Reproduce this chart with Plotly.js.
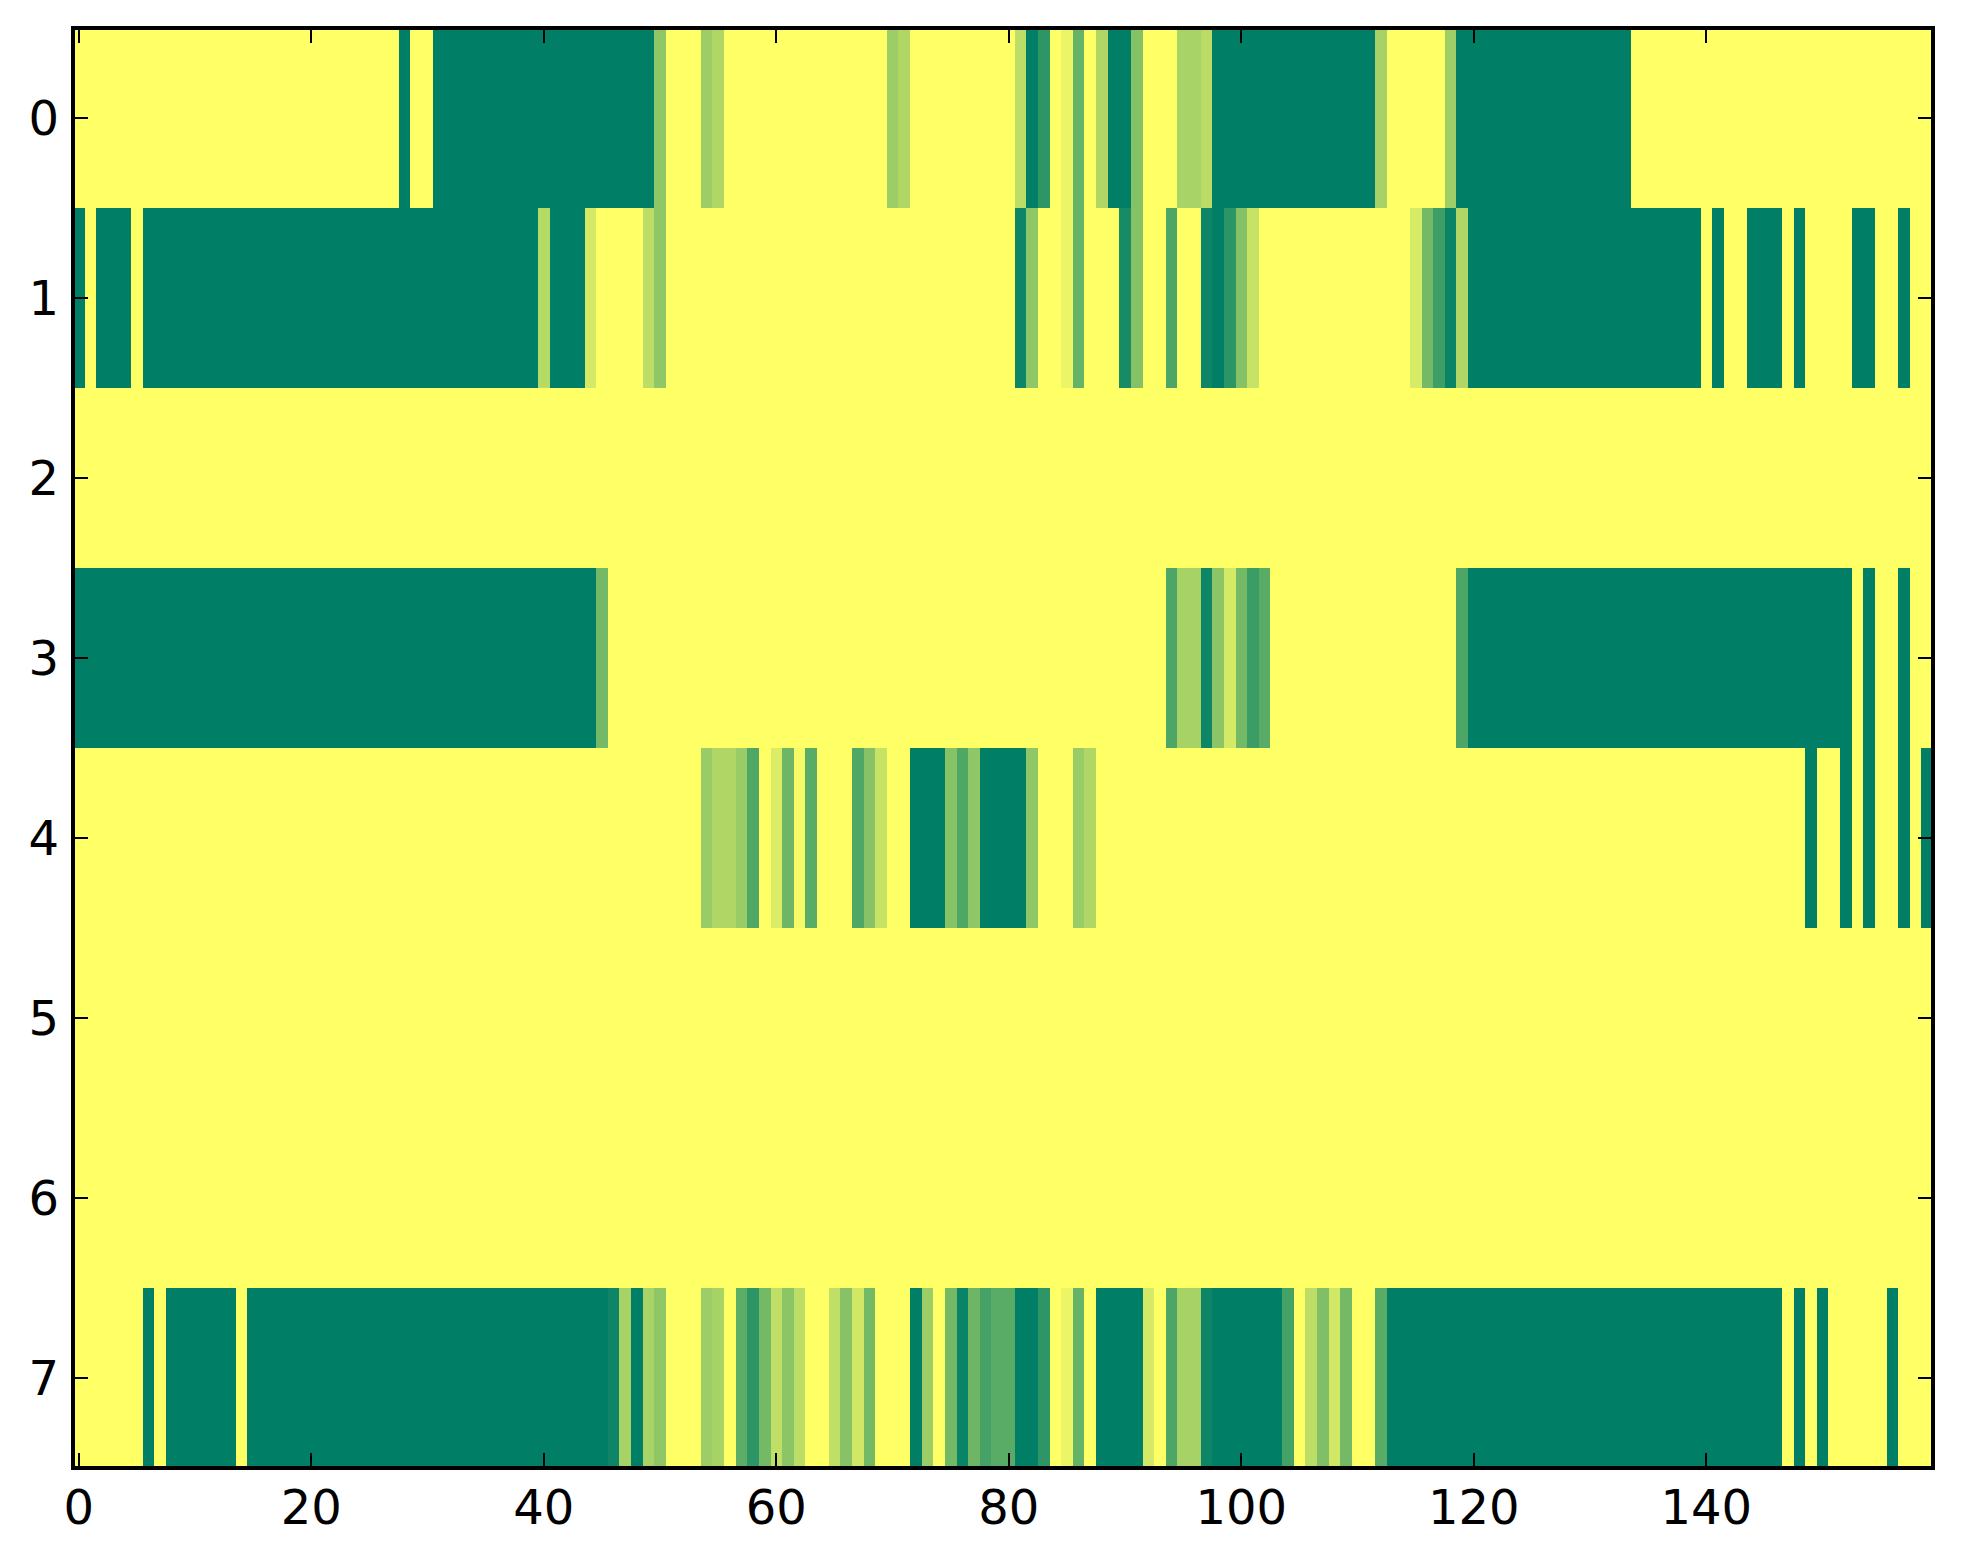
<!DOCTYPE html>
<html>
<head>
<meta charset="utf-8">
<script src="https://cdn.plot.ly/plotly-3.0.1.min.js"></script>
<style>html,body{margin:0;padding:0;background:#fff;}</style>
</head>
<body>
<div id="chart" style="width:1963px;height:1564px;"></div>
<script>
var row0 = [
0,0,0,0,0,0,0,0,0,0,
0,0,0,0,0,0,0,0,0,0,
0,0,0,0,0,0,0,0,1,0,
0,1,1,1,1,1,1,1,1,1,
1,1,1,1,1,1,1,1,1,1,
.44,0,0,0,.39,.31,0,0,0,0,
0,0,0,0,0,0,0,0,0,0,
.39,.31,0,0,0,0,0,0,0,0,
0,.26,1,.82,0,.08,.6,0,.31,1,
1,.48,0,0,0,.34,.34,.27,1,1,
1,1,1,1,1,1,1,1,1,1,
1,1,.35,0,0,0,0,0,.38,1,
1,1,1,1,1,1,1,1,1,1,
1,1,1,1,0,0,0,0,0,0,
0,0,0,0,0,0,0,0,0,0,
0,0,0,0,0,0,0,0,0,0];
var row1 = [
1,0,1,1,1,0,1,1,1,1,
1,1,1,1,1,1,1,1,1,1,
1,1,1,1,1,1,1,1,1,1,
1,1,1,1,1,1,1,1,1,1,
.29,1,1,1,.17,0,0,0,0,.26,
.44,0,0,0,0,0,0,0,0,0,
0,0,0,0,0,0,0,0,0,0,
0,0,0,0,0,0,0,0,0,0,
0,.95,.44,0,0,.08,.6,0,0,0,
.91,.48,0,0,.7,0,0,.95,1,.83,
.48,.22,0,0,0,0,0,0,0,0,
0,0,0,0,0,.16,.55,.76,.96,.31,
1,1,1,1,1,1,1,1,1,1,
1,1,1,1,1,1,1,1,1,1,
0,1,0,0,1,1,1,0,1,0,
0,0,0,1,1,0,0,1,0,0];
var row2 = [
0,0,0,0,0,0,0,0,0,0,0,0,0,0,0,0,0,0,0,0,
0,0,0,0,0,0,0,0,0,0,0,0,0,0,0,0,0,0,0,0,
0,0,0,0,0,0,0,0,0,0,0,0,0,0,0,0,0,0,0,0,
0,0,0,0,0,0,0,0,0,0,0,0,0,0,0,0,0,0,0,0,
0,0,0,0,0,0,0,0,0,0,0,0,0,0,0,0,0,0,0,0,
0,0,0,0,0,0,0,0,0,0,0,0,0,0,0,0,0,0,0,0,
0,0,0,0,0,0,0,0,0,0,0,0,0,0,0,0,0,0,0,0,
0,0,0,0,0,0,0,0,0,0,0,0,0,0,0,0,0,0,0,0];
var row3 = [
1,1,1,1,1,1,1,1,1,1,
1,1,1,1,1,1,1,1,1,1,
1,1,1,1,1,1,1,1,1,1,
1,1,1,1,1,1,1,1,1,1,
1,1,1,1,1,.55,0,0,0,0,
0,0,0,0,0,0,0,0,0,0,
0,0,0,0,0,0,0,0,0,0,
0,0,0,0,0,0,0,0,0,0,
0,0,0,0,0,0,0,0,0,0,
0,0,0,0,.7,.35,.35,.95,.45,.17,
.55,.77,.65,0,0,0,0,0,0,0,
0,0,0,0,0,0,0,0,0,.7,
1,1,1,1,1,1,1,1,1,1,
1,1,1,1,1,1,1,1,1,1,
1,1,1,1,1,1,1,1,1,1,
1,1,1,0,1,0,0,1,0,0];
var row4 = [
0,0,0,0,0,0,0,0,0,0,
0,0,0,0,0,0,0,0,0,0,
0,0,0,0,0,0,0,0,0,0,
0,0,0,0,0,0,0,0,0,0,
0,0,0,0,0,0,0,0,0,0,
0,0,0,0,.4,.31,.31,.4,.69,0,
.14,.57,.04,.65,0,0,0,.69,.47,.22,
0,0,1,1,1,.47,.69,.44,1,1,
1,1,.44,0,0,0,.4,.31,0,0,
0,0,0,0,0,0,0,0,0,0,
0,0,0,0,0,0,0,0,0,0,
0,0,0,0,0,0,0,0,0,0,
0,0,0,0,0,0,0,0,0,0,
0,0,0,0,0,0,0,0,0,0,
0,0,0,0,0,0,0,0,0,1,
0,0,1,0,1,0,0,1,0,1];
var row5 = row2.slice();
var row6 = row2.slice();
var row7 = [
0,0,0,0,0,0,1,0,1,1,
1,1,1,1,0,1,1,1,1,1,
1,1,1,1,1,1,1,1,1,1,
1,1,1,1,1,1,1,1,1,1,
1,1,1,1,1,1,.95,.35,1,.34,
.44,0,0,0,.39,.35,0,.64,.82,.55,
.25,.45,.26,0,0,.25,.47,.18,.55,0,
0,0,1,.39,0,.55,.96,.57,.73,.65,
.65,1,1,.82,0,.08,.6,0,1,1,
1,1,.17,0,.7,.35,.35,.95,1,1,
1,1,1,1,.73,0,.26,.5,.18,.55,
0,0,.65,1,1,1,1,1,1,1,
1,1,1,1,1,1,1,1,1,1,
1,1,1,1,1,1,1,1,1,1,
1,1,1,1,1,1,1,0,1,0,
1,0,0,0,0,0,1,0,0,0];

var xTicks = [0,20,40,60,80,100,120,140];
var yTicks = [0,1,2,3,4,5,6,7];

var tickFont = {family:'"DejaVu Sans", sans-serif', size:48, color:'#000'};
var axisCommon = {
  showgrid:false, zeroline:false, showline:false,
  mirror:'ticks', ticks:'inside', ticklen:15, tickwidth:2, tickcolor:'#000',
  tickfont:tickFont, tickmode:'array', tickangle:0
};

Plotly.newPlot('chart', [{
  type:'heatmap',
  z:[row0,row1,row2,row3,row4,row5,row6,row7],
  zmin:0, zmax:1,
  colorscale:[[0,'#ffff66'],[1,'#007f66']],
  showscale:false
}], {
  width:1963, height:1564,
  paper_bgcolor:'#fff', plot_bgcolor:'#fff',
  margin:{l:73,r:29.5,t:28,b:96,pad:0},
  xaxis:Object.assign({}, axisCommon, {range:[-0.5,159.5], tickvals:xTicks, ticktext:xTicks.map(String), ticklabelstandoff:7}),
  yaxis:Object.assign({}, axisCommon, {range:[7.5,-0.5], tickvals:yTicks, ticktext:yTicks.map(String), ticklabelstandoff:13}),
  shapes:[{type:'rect', xref:'paper', yref:'paper', x0:0, x1:1, y0:0, y1:1, layer:'above',
           line:{color:'#000', width:4}, fillcolor:'rgba(0,0,0,0)'}],
  showlegend:false
}, {displayModeBar:false, staticPlot:true});
</script>
</body>
</html>
